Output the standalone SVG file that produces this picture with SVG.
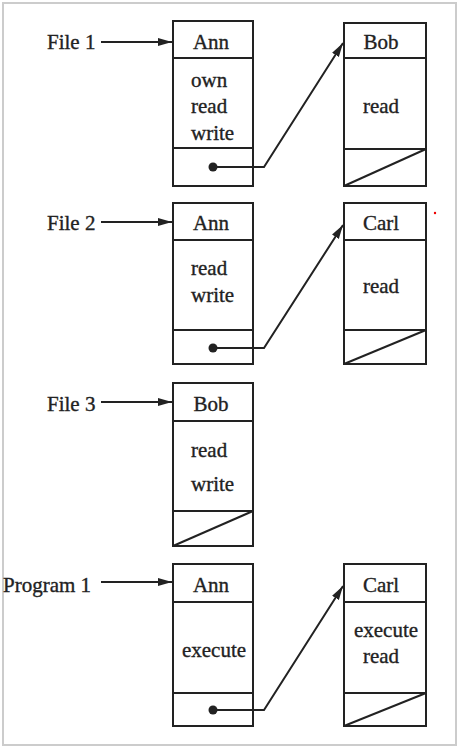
<svg xmlns="http://www.w3.org/2000/svg" width="458" height="747" viewBox="0 0 458 747">
<defs>
<style>
.box{fill:none;stroke:#222;stroke-width:2}
.t{font-family:"Liberation Serif","Times New Roman",serif;font-size:21px;fill:#222;stroke:#222;stroke-width:0.35}
.c{text-anchor:middle}
.ln{fill:none;stroke:#222;stroke-width:2}
</style>
<marker id="ah" viewBox="0 0 14 10" refX="14" refY="5" markerWidth="14" markerHeight="10" markerUnits="userSpaceOnUse" orient="auto">
<path d="M0,1 L14,5 L0,9 Z" fill="#222"/>
</marker>
</defs>
<rect x="3" y="3" width="453" height="742" fill="#fff" stroke="#ccc" stroke-width="2"/>
<circle cx="435" cy="213" r="1.2" fill="#e00"/>

<g id="label-file1"><text class="t" x="47" y="49">File 1</text></g>
<g id="label-file2"><text class="t" x="47" y="230">File 2</text></g>
<g id="label-file3"><text class="t" x="47" y="411">File 3</text></g>
<g id="label-program1"><text class="t" x="3" y="592">Program 1</text></g>

<g id="file1-ann">
<rect class="box" x="173" y="21" width="80" height="165"/>
<line class="box" x1="173" y1="58" x2="253" y2="58"/>
<line class="box" x1="173" y1="148" x2="253" y2="148"/>
<text class="t c" x="211" y="49">Ann</text>
<text class="t" x="191" y="87">own</text>
<text class="t" x="191" y="113">read</text>
<text class="t" x="191" y="140">write</text>
</g>
<g id="file1-bob">
<rect class="box" x="344" y="23" width="82" height="163"/>
<line class="box" x1="344" y1="58" x2="426" y2="58"/>
<line class="box" x1="344" y1="149" x2="426" y2="149"/>
<line class="box" x1="344" y1="186" x2="426" y2="149"/>
<text class="t c" x="381" y="49">Bob</text>
<text class="t c" x="381" y="113">read</text>
</g>

<g id="file2-ann">
<rect class="box" x="173" y="203" width="80" height="161"/>
<line class="box" x1="173" y1="240" x2="253" y2="240"/>
<line class="box" x1="173" y1="330" x2="253" y2="330"/>
<text class="t c" x="211" y="230">Ann</text>
<text class="t" x="191" y="275">read</text>
<text class="t" x="191" y="302">write</text>
</g>
<g id="file2-carl">
<rect class="box" x="344" y="203" width="82" height="161"/>
<line class="box" x1="344" y1="240" x2="426" y2="240"/>
<line class="box" x1="344" y1="330" x2="426" y2="330"/>
<line class="box" x1="344" y1="364" x2="426" y2="330"/>
<text class="t c" x="381" y="230">Carl</text>
<text class="t c" x="381" y="293">read</text>
</g>

<g id="file3-bob">
<rect class="box" x="173" y="383" width="80" height="163"/>
<line class="box" x1="173" y1="421" x2="253" y2="421"/>
<line class="box" x1="173" y1="511" x2="253" y2="511"/>
<line class="box" x1="173" y1="546" x2="253" y2="511"/>
<text class="t c" x="211" y="411">Bob</text>
<text class="t" x="191" y="457">read</text>
<text class="t" x="191" y="491">write</text>
</g>

<g id="program1-ann">
<rect class="box" x="173" y="564" width="80" height="162"/>
<line class="box" x1="173" y1="602" x2="253" y2="602"/>
<line class="box" x1="173" y1="693" x2="253" y2="693"/>
<text class="t c" x="211" y="592">Ann</text>
<text class="t c" x="214" y="657">execute</text>
</g>
<g id="program1-carl">
<rect class="box" x="344" y="564" width="82" height="162"/>
<line class="box" x1="344" y1="602" x2="426" y2="602"/>
<line class="box" x1="344" y1="693" x2="426" y2="693"/>
<line class="box" x1="344" y1="726" x2="426" y2="693"/>
<text class="t c" x="381" y="592">Carl</text>
<text class="t c" x="386" y="637">execute</text>
<text class="t c" x="381" y="663">read</text>
</g>

<g id="connectors">
<line class="ln" x1="101" y1="42" x2="172" y2="42" marker-end="url(#ah)"/>
<line class="ln" x1="101" y1="222" x2="172" y2="222" marker-end="url(#ah)"/>
<line class="ln" x1="101" y1="402" x2="172" y2="402" marker-end="url(#ah)"/>
<line class="ln" x1="101" y1="582" x2="172" y2="582" marker-end="url(#ah)"/>
<circle cx="213" cy="167" r="4.5" fill="#222"/>
<polyline class="ln" points="213,167 264,167 343,43" marker-end="url(#ah)"/>
<circle cx="213" cy="348" r="4.5" fill="#222"/>
<polyline class="ln" points="213,348 264,348 343,225" marker-end="url(#ah)"/>
<circle cx="213" cy="710" r="4.5" fill="#222"/>
<polyline class="ln" points="213,710 264,710 343,586" marker-end="url(#ah)"/>
</g>
</svg>
